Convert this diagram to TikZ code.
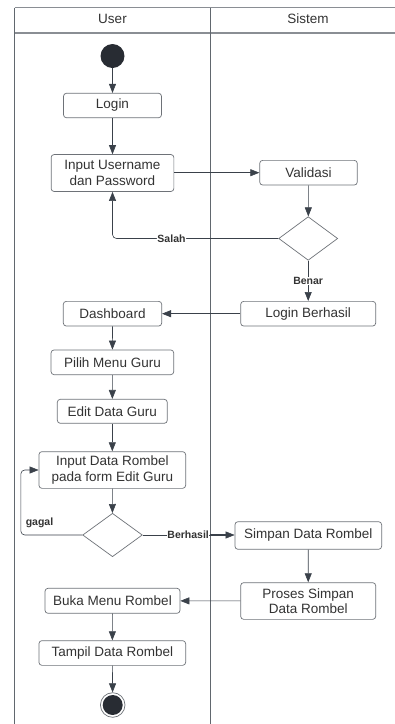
\documentclass[tikz,border=0pt]{standalone}
\usepackage{fontspec}
\setmainfont{Liberation Sans}
\usetikzlibrary{shapes.geometric,arrows.meta,calc}
\definecolor{ink}{HTML}{333333}
\definecolor{ln}{HTML}{3A414A}
\definecolor{bx}{HTML}{6E7278}
\definecolor{lane}{HTML}{8A8E94}
\definecolor{dot}{HTML}{282C33}
\tikzset{
  act/.style={draw=bx, line width=0.7pt, rounded corners=3pt, fill=white,
    inner sep=0pt, align=center, text=ink,
    font=\fontsize{13.5}{15.5}\selectfont},
  decide/.style={draw=bx, line width=0.7pt, diamond, fill=white, inner sep=0pt},
  flow/.style={draw=ln, line width=0.6pt, -{Triangle[length=9pt,width=7pt]}},
  guard/.style={font=\bfseries\fontsize{10.5}{12}\selectfont, text=ink,
    fill=white, inner sep=0.5pt},
  lanetitle/.style={font=\fontsize{13.5}{15.5}\selectfont, text=ink}
}
\begin{document}
\begin{tikzpicture}[x=1pt,y=-1pt]
\useasboundingbox (0,0) rectangle (395,724);
\fill[white] (0,0) rectangle (395,724);

% swimlanes
\draw[lane, line width=1pt] (14.5,7.5) -- (395,7.5);
\draw[lane, line width=1.3pt] (14.5,33) -- (395,33);
\draw[ln!80, line width=0.9pt] (14.5,7.5) -- (14.5,724);
\draw[ln!80, line width=0.9pt] (210,7.5) -- (210,724);
\node[lanetitle] (laneU) at (112.5,19) {User};
\node[lanetitle] (laneS) at (308,19) {Sistem};

% activities
\node[circle, fill=dot, minimum size=24pt, inner sep=0pt] (start) at (112.5,56) {};
\node[act, minimum width=98pt, minimum height=24.5pt] (login) at (112.5,105.5) {Login};
\node[act, minimum width=122.7pt, minimum height=37pt] (input) at (112.5,173) {Input Username\\dan Password};
\node[act, minimum width=97.6pt, minimum height=24.7pt] (valid) at (308.5,172.7) {Validasi};
\node[decide, minimum width=59pt, minimum height=43.6pt] (dec1) at (308.2,238.5) {};
\node[act, minimum width=135pt, minimum height=24.7pt] (lberh) at (308.2,313.7) {Login Berhasil};
\node[act, minimum width=98.4pt, minimum height=24.7pt] (dash) at (112.5,313.7) {Dashboard};
\node[act, minimum width=122.7pt, minimum height=24.7pt] (pilih) at (112.4,362.3) {Pilih Menu Guru};
\node[act, minimum width=110pt, minimum height=24pt] (edit) at (112.3,411.3) {Edit Data Guru};
\node[act, minimum width=146.7pt, minimum height=36.7pt] (inrom) at (112.3,470) {Input Data Rombel\\pada form Edit Guru};
\node[decide, minimum width=59.7pt, minimum height=43.4pt] (dec2) at (112.5,535) {};
\node[act, minimum width=146.7pt, minimum height=27.6pt] (simpan) at (308.3,535.5) {Simpan Data Rombel};
\node[act, minimum width=135pt, minimum height=36.7pt] (proses) at (308.2,601) {Proses Simpan\\Data Rombel};
\node[act, minimum width=135pt, minimum height=25pt] (buka) at (112.5,600.8) {Buka Menu Rombel};
\node[act, minimum width=146.7pt, minimum height=24.7pt] (tampil) at (112.3,653) {Tampil Data Rombel};
\node[circle, draw=bx, line width=0.7pt, fill=white, minimum size=24.6pt, inner sep=0pt] (end) at (112.7,705) {};
\node[circle, fill=dot, minimum size=20pt, inner sep=0pt] (endin) at (end.center) {};

% control flow
\draw[flow] (start) -- (login);
\draw[flow] (login) -- (input);
\draw[flow] (input.east |- valid) -- (valid);
\draw[flow] (valid) -- (dec1);
\draw[flow, rounded corners=4pt] (dec1.west) -- (input.south |- dec1.west) -- (input.south)
  node[guard, pos=0.0, xshift=59pt] (lblS) {Salah};
\draw[flow] (dec1) -- (lberh) node[guard, pos=0.5] (lblB) {Benar};
\draw[flow] (lberh) -- (dash);
\draw[flow] (dash) -- (pilih);
\draw[flow] (pilih) -- (edit);
\draw[flow] (edit) -- (inrom);
\draw[flow] (inrom) -- (dec2);
\draw[flow, rounded corners=4pt] (dec2.west) -- ++(-61.5,0) |- (inrom.west);
\node[guard, fill=none] (lblG) at (39.5,522.7) {gagal};
\draw[flow] (dec2.east) -- (simpan.west |- dec2.east)
  node[guard, pos=0.495] (lblH) {Berhasil};
\draw[ln, line width=1.3pt] (lblH.east) -- ($(simpan.west |- dec2.east)+(-8,0)$);
\draw[flow] (simpan) -- (proses);
\draw[flow] (proses) -- (buka);
\draw[flow] (buka) -- (tampil);
\draw[flow] (tampil) -- (end);
\end{tikzpicture}
\end{document}
